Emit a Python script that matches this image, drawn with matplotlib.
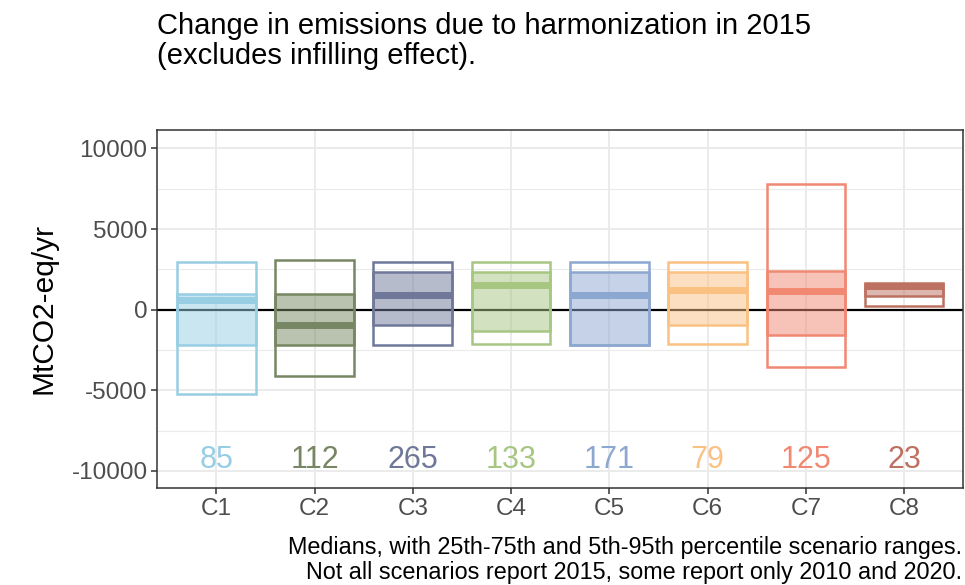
import numpy as np
import matplotlib.pyplot as plt
from matplotlib.patches import Rectangle

plt.rcParams['font.family'] = ['Liberation Sans', 'DejaVu Sans']
plt.rcParams['axes.unicode_minus'] = False

# data (MtCO2-eq/yr)
categories = ['C1', 'C2', 'C3', 'C4', 'C5', 'C6', 'C7', 'C8']
p05 = [-5200, -4100, -2170, -2150, -2170, -2130, -3550, 200]
p25 = [-2170, -2170, -930, -1340, -2170, -930, -1550, 820]
median = [620, -930, 890, 1550, 890, 1220, 1140, 1450]
p75 = [970, 970, 2310, 2310, 2310, 2310, 2370, 1580]
p95 = [2950, 3080, 2950, 2950, 2950, 2950, 7780, 1650]
counts = [85, 112, 265, 133, 171, 79, 125, 23]
colors = ['#97CEE4', '#778663', '#6F7899', '#A7C682',
          '#8CA7D0', '#FAC182', '#F18872', '#BD7161']

fig = plt.figure(figsize=(9.65, 5.85), dpi=100)
ax = fig.add_axes([0.163, 0.166, 0.835, 0.612])

x = np.arange(1, len(categories) + 1)
w = 0.8

ax.axhline(0, color='black', lw=1.6, zorder=2)

for i in range(len(categories)):
    c = colors[i]
    # 5th-95th outline
    ax.add_patch(Rectangle((x[i] - w / 2, p05[i]), w, p95[i] - p05[i],
                           fill=False, ec=c, lw=1.8, zorder=3))
    # 25th-75th filled
    ax.add_patch(Rectangle((x[i] - w / 2, p25[i]), w, p75[i] - p25[i],
                           fc=c, alpha=0.5, ec='none', zorder=3))
    ax.add_patch(Rectangle((x[i] - w / 2, p25[i]), w, p75[i] - p25[i],
                           fill=False, ec=c, lw=1.8, zorder=4))
    ax.plot([x[i] - w / 2, x[i] + w / 2], [median[i], median[i]],
            color=c, lw=5, solid_capstyle='butt', zorder=4)
    ax.text(x[i], -9300, str(counts[i]), color=c, fontsize=22,
            ha='center', va='center', zorder=5)

ax.set_xlim(0.4, 8.6)
ax.set_ylim(-11050, 11150)
ax.set_xticks(x)
ax.set_xticklabels(categories)
ax.set_yticks([-10000, -5000, 0, 5000, 10000])
ax.set_yticks([-7500, -2500, 2500, 7500], minor=True)
ax.set_xticks([], minor=True)

ax.grid(True, which='major', color='#EBEBEB', lw=1.4, zorder=0)
ax.grid(True, which='minor', axis='y', color='#EBEBEB', lw=0.8, zorder=0)
ax.set_axisbelow(True)

for s in ax.spines.values():
    s.set_color('#333333')
    s.set_linewidth(1.1)

ax.tick_params(axis='both', which='major', colors='#333333', length=4,
               width=1.1, labelsize=17.5, labelcolor='#4D4D4D', pad=3)
ax.tick_params(axis='y', which='minor', length=0)

ax.set_ylabel('MtCO2-eq/yr', fontsize=21.5, labelpad=10)

fig.text(0.163, 0.98,
         'Change in emissions due to harmonization in 2015\n(excludes infilling effect).',
         fontsize=21, ha='left', va='top', linespacing=1.1)

fig.text(0.997, 0.002,
         'Medians, with 25th-75th and 5th-95th percentile scenario ranges.\n'
         'Not all scenarios report 2015, some report only 2010 and 2020.',
         fontsize=16.8, ha='right', va='bottom', linespacing=1.12)

fig.savefig('out.png', dpi=100)
